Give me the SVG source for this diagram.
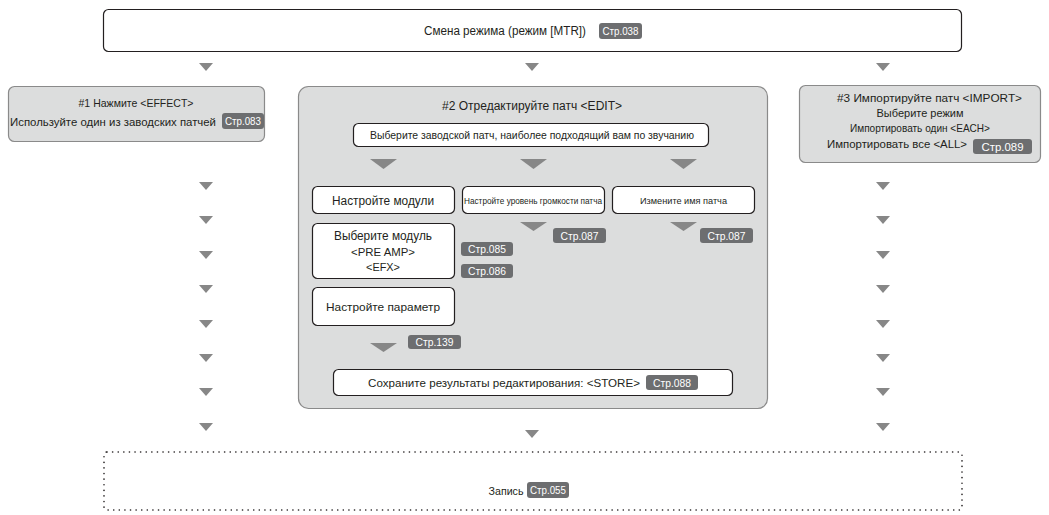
<svg xmlns="http://www.w3.org/2000/svg" width="1049" height="515" viewBox="0 0 1049 515">
<defs>
<style>
text{font-family:"Liberation Sans","Noto Sans",sans-serif;fill:#231f20;text-anchor:middle}
.wbox{fill:#fff;stroke:#231f20;stroke-width:1.2}
.gbox{fill:#dcdddd;stroke:#8a8a8a;stroke-width:1.2}
.badge{fill:#6d6e70}
.bt{fill:#fff;font-size:11px}
.arr{fill:#878787}
.t11{font-size:11px}
.t12{font-size:12px}
</style>
</defs>

<g id="connectors">
<path class="arr" d="M199 63h14l-7 8z"/>
<path class="arr" d="M525 63h14l-7 8z"/>
<path class="arr" d="M876 63h14l-7 8z"/>
<path class="arr" d="M199 182h14l-7 8z"/>
<path class="arr" d="M199 216h14l-7 8z"/>
<path class="arr" d="M199 251h14l-7 8z"/>
<path class="arr" d="M199 285h14l-7 8z"/>
<path class="arr" d="M199 320h14l-7 8z"/>
<path class="arr" d="M199 354h14l-7 8z"/>
<path class="arr" d="M199 388h14l-7 8z"/>
<path class="arr" d="M199 423h14l-7 8z"/>
<path class="arr" d="M876 182h14l-7 8z"/>
<path class="arr" d="M876 216h14l-7 8z"/>
<path class="arr" d="M876 251h14l-7 8z"/>
<path class="arr" d="M876 285h14l-7 8z"/>
<path class="arr" d="M876 320h14l-7 8z"/>
<path class="arr" d="M876 354h14l-7 8z"/>
<path class="arr" d="M876 388h14l-7 8z"/>
<path class="arr" d="M876 423h14l-7 8z"/>
<path class="arr" d="M525 430h14l-7 8z"/>
</g>

<g id="mode">
<rect class="wbox" x="103.5" y="9.5" width="858" height="42" rx="5"/>
<text style="font-size:12.5px" x="505" y="35" textLength="162" lengthAdjust="spacingAndGlyphs">Смена режима (режим [MTR])</text>
<rect class="badge" x="599" y="23" width="43" height="16" rx="3"/>
<text class="bt" x="620.5" y="35" textLength="36" lengthAdjust="spacingAndGlyphs">Стр.038</text>
</g>

<g id="effect">
<rect class="gbox" x="8.5" y="86.5" width="256" height="55" rx="6"/>
<text class="t11" x="136" y="107" textLength="115" lengthAdjust="spacingAndGlyphs">#1 Нажмите &lt;EFFECT&gt;</text>
<text class="t11" x="113" y="126" textLength="206" lengthAdjust="spacingAndGlyphs">Используйте один из заводских патчей</text>
<rect class="badge" x="222" y="113" width="42" height="16" rx="3"/>
<text class="bt" x="243" y="125" textLength="36" lengthAdjust="spacingAndGlyphs">Стр.083</text>
</g>

<g id="edit">
<rect class="gbox" x="298.5" y="86.5" width="469" height="322" rx="10"/>
<text class="t12" x="532" y="110" textLength="180" lengthAdjust="spacingAndGlyphs">#2 Отредактируйте патч &lt;EDIT&gt;</text>
</g>

<g id="select-patch">
<rect class="wbox" x="353.5" y="123.5" width="355" height="23" rx="5"/>
<text style="font-size:10.5px" x="532" y="139" textLength="324" lengthAdjust="spacingAndGlyphs">Выберите заводской патч, наиболее подходящий вам по звучанию</text>
</g>
<g id="edit-arrows">
<path class="arr" d="M370 159h27l-13.5 10z"/>
<path class="arr" d="M520 159h27l-13.5 10z"/>
<path class="arr" d="M670 159h27l-13.5 10z"/>
<path class="arr" d="M520 222h27l-13.5 9z"/>
<path class="arr" d="M670 222h27l-13.5 9z"/>
<path class="arr" d="M370 343h27l-13.5 9z"/>
</g>

<g id="modules">
<rect class="wbox" x="312.5" y="186.5" width="142" height="27" rx="5"/>
<text class="t12" x="383" y="204.5" textLength="102" lengthAdjust="spacingAndGlyphs">Настройте модули</text>
</g>

<g id="volume">
<rect class="wbox" x="462.5" y="186.5" width="142" height="27" rx="5"/>
<text style="font-size:8.5px" x="533" y="203.5" textLength="138" lengthAdjust="spacingAndGlyphs">Настройте уровень громкости патча</text>
<rect class="badge" x="553" y="228" width="53" height="15" rx="3"/>
<text class="bt" x="579.5" y="239.5" textLength="38" lengthAdjust="spacingAndGlyphs">Стр.087</text>
</g>

<g id="name">
<rect class="wbox" x="612.5" y="186.5" width="142" height="27" rx="5"/>
<text style="font-size:9.5px" x="683.5" y="203.5" textLength="87" lengthAdjust="spacingAndGlyphs">Измените имя патча</text>
<rect class="badge" x="700" y="228" width="53" height="15" rx="3"/>
<text class="bt" x="726.5" y="239.5" textLength="38" lengthAdjust="spacingAndGlyphs">Стр.087</text>
</g>

<g id="select-module">
<rect class="wbox" x="312.5" y="223.5" width="142" height="55" rx="5"/>
<text class="t12" x="383" y="240" textLength="98" lengthAdjust="spacingAndGlyphs">Выберите модуль</text>
<text class="t11" x="383" y="256" textLength="64" lengthAdjust="spacingAndGlyphs">&lt;PRE AMP&gt;</text>
<text class="t11" x="383" y="271" textLength="34" lengthAdjust="spacingAndGlyphs">&lt;EFX&gt;</text>
<rect class="badge" x="461" y="242" width="52" height="14" rx="3"/>
<text class="bt" x="487" y="253" textLength="38" lengthAdjust="spacingAndGlyphs">Стр.085</text>
<rect class="badge" x="461" y="264" width="52" height="14" rx="3"/>
<text class="bt" x="487" y="275" textLength="38" lengthAdjust="spacingAndGlyphs">Стр.086</text>
</g>

<g id="param">
<rect class="wbox" x="312.5" y="287.5" width="142" height="38" rx="5"/>
<text style="font-size:11.5px" x="383" y="310.5" textLength="114" lengthAdjust="spacingAndGlyphs">Настройте параметр</text>
<rect class="badge" x="408" y="335" width="53" height="14" rx="3"/>
<text class="bt" x="434.5" y="346" textLength="38" lengthAdjust="spacingAndGlyphs">Стр.139</text>
</g>

<g id="store">
<rect class="wbox" x="333.5" y="369.5" width="399" height="26" rx="5"/>
<text class="t11" x="504" y="387" textLength="272" lengthAdjust="spacingAndGlyphs">Сохраните результаты редактирования: &lt;STORE&gt;</text>
<rect class="badge" x="646" y="375" width="52" height="15" rx="3"/>
<text class="bt" x="672" y="386.5" textLength="38" lengthAdjust="spacingAndGlyphs">Стр.088</text>
</g>

<g id="import">
<rect class="gbox" x="799.5" y="85.5" width="241" height="77" rx="6"/>
<text style="font-size:11.5px" x="929.5" y="102" textLength="185" lengthAdjust="spacingAndGlyphs">#3 Импортируйте патч  &lt;IMPORT&gt;</text>
<text class="t11" x="920" y="117" textLength="87" lengthAdjust="spacingAndGlyphs">Выберите режим</text>
<text class="t11" x="920" y="132" textLength="140" lengthAdjust="spacingAndGlyphs">Импортировать один &lt;EACH&gt;</text>
<text class="t11" x="897" y="148" textLength="140" lengthAdjust="spacingAndGlyphs">Импортировать все  &lt;ALL&gt;</text>
<rect class="badge" x="973" y="139" width="59" height="15" rx="3"/>
<text class="bt" x="1002.5" y="150.5" textLength="42" lengthAdjust="spacingAndGlyphs">Стр.089</text>
</g>

<g id="record">
<rect x="104" y="452" width="858" height="58" rx="3" fill="#fff" stroke="#231f20" stroke-width="1.6" stroke-dasharray="0.1 5.5" stroke-linecap="round"/>
<text class="t11" x="506" y="494.5" textLength="35" lengthAdjust="spacingAndGlyphs">Запись</text>
<rect class="badge" x="527" y="482" width="42" height="16" rx="3"/>
<text class="bt" x="548" y="494" textLength="36" lengthAdjust="spacingAndGlyphs">Стр.055</text>
</g>
</svg>
